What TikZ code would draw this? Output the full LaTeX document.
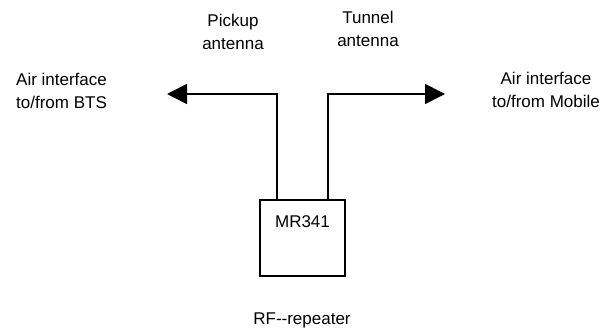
\documentclass[tikz,border=0pt]{standalone}
\usepackage{fontspec}
\setmainfont{Liberation Sans}
\usetikzlibrary{arrows.meta}
\begin{document}
\begin{tikzpicture}[x=1pt,y=-1pt,
  lbl/.style={inner sep=0pt,font=\fontsize{17}{23}\selectfont},
  wire/.style={line width=1.6pt,-{Triangle[length=20pt,width=20pt]}},
  unit/.style={draw,line width=1.6pt,minimum width=85pt,minimum height=76pt,inner sep=0pt}]
\useasboundingbox (0,0) rectangle (604,331);
\node[unit] (mr) at (302.5,238) {};
\node[lbl,anchor=north] (mrt) at (302.5,215) {MR341};
\coordinate (tipL) at (167,94);
\coordinate (tipR) at (445,94);
\draw[wire] ([xshift=-25.5pt]mr.north) |- (tipL);
\draw[wire] ([xshift=25.5pt]mr.north) |- (tipR);
\node[lbl,anchor=north west,align=left] (bts) at (16,73) {Air interface\\to/from BTS};
\node[lbl,anchor=north,align=center] (mob) at (546,72) {Air interface\\to/from Mobile};
\node[lbl,anchor=north,align=center] (pick) at (233,14) {Pickup\\antenna};
\node[lbl,anchor=north,align=center] (tun) at (368,11) {Tunnel\\antenna};
\node[lbl,anchor=north] (rf) at (302,313) {RF{-}{-}repeater};
\end{tikzpicture}
\end{document}
